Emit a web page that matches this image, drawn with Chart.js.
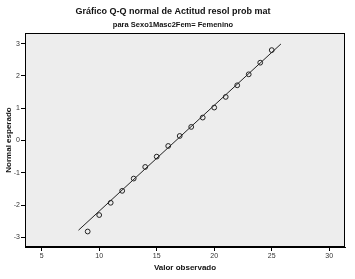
<!DOCTYPE html>
<html>
<head>
<meta charset="utf-8">
<script src="https://cdn.jsdelivr.net/npm/chart.js@4"></script>
<style>
  html, body { margin: 0; padding: 0; background: #fff; }
  #wrap { width: 355px; height: 279px; }
</style>
</head>
<body>
<div id="wrap"><canvas id="qq-chart" width="355" height="279"></canvas></div>
<script>
var observed = [9, 10, 11, 12, 13, 14, 15, 16, 17, 18, 19, 20, 21, 22, 23, 24, 25]
var expected = [-2.82, -2.31, -1.93, -1.56, -1.18, -0.82, -0.50, -0.17, 0.14, 0.42, 0.71, 1.02, 1.35, 1.71, 2.05, 2.41, 2.80]
// recta de referencia
var lineX = [8.2, 25.8]
var lineY = [-2.78, 2.99]
var xTicks = [5, 10, 15, 20, 25, 30]
var yTicks = [-3, -2, -1, 0, 1, 2, 3]

var title = 'Gráfico Q-Q normal de Actitud resol prob mat'
var subtitle = 'para Sexo1Masc2Fem= Femenino'

var ctx = document.getElementById('qq-chart').getContext('2d')

var frame = {
    id: 'frame',
    beforeDraw: function(chart) {
        var a = chart.chartArea, c = chart.ctx
        c.save()
        c.fillStyle = '#ededed'
        c.fillRect(a.left, a.top, a.right - a.left, a.bottom - a.top)
        c.restore()
    },
    afterDraw: function(chart) {
        var a = chart.chartArea, c = chart.ctx
        c.save()
        c.strokeStyle = '#000'
        c.lineWidth = 1
        c.strokeRect(a.left + 0.5, a.top + 0.5, a.right - a.left - 1, a.bottom - a.top - 1)
        c.fillStyle = '#111'
        c.textAlign = 'center'
        c.textBaseline = 'middle'
        c.font = 'bold 9px "Liberation Sans", Arial, sans-serif'
        c.fillText(title, 173, 12)
        c.font = 'bold 7.5px "Liberation Sans", Arial, sans-serif'
        c.fillText(subtitle, 173, 25)
        c.restore()
    }
}

new Chart(ctx, {
    type: 'scatter',
    data: {
        datasets: [{
            data: observed.map(function(v, i) { return {x: v, y: expected[i]} }),
            pointRadius: 2.4,
            pointBorderWidth: 1,
            pointBorderColor: '#222',
            pointBackgroundColor: 'rgba(0,0,0,0)',
            showLine: false
        }, {
            data: lineX.map(function(v, i) { return {x: v, y: lineY[i]} }),
            showLine: true,
            borderColor: '#222',
            borderWidth: 1,
            pointRadius: 0
        }]
    },
    options: {
        responsive: false,
        animation: false,
        layout: { padding: { top: 33, right: 10, left: 0, bottom: 0 } },
        plugins: {
            legend: { display: false },
            tooltip: { enabled: false }
        },
        scales: {
            x: {
                type: 'linear',
                min: 3.55,
                max: 31.37,
                afterBuildTicks: function(s) { s.ticks = xTicks.map(function(v) { return {value: v} }) },
                afterFit: function(s) { s.height = 32 },
                grid: { drawOnChartArea: false, drawTicks: true, tickLength: 4, color: '#000' },
                border: { display: true, color: '#000' },
                ticks: { padding: 1, color: '#333', font: { size: 7, family: '"Liberation Sans", Arial' } },
                title: {
                    display: true,
                    text: 'Valor observado',
                    color: '#111',
                    font: { size: 8, weight: 'bold', family: '"Liberation Sans", Arial' },
                    padding: { top: 0, bottom: 6 }
                }
            },
            y: {
                type: 'linear',
                min: -3.3,
                max: 3.33,
                afterBuildTicks: function(s) { s.ticks = yTicks.map(function(v) { return {value: v} }) },
                afterFit: function(s) { s.width = 25 },
                grid: { drawOnChartArea: false, drawTicks: true, tickLength: 4, color: '#000' },
                border: { display: true, color: '#000' },
                ticks: { padding: 1, color: '#333', font: { size: 7, family: '"Liberation Sans", Arial' } },
                title: {
                    display: true,
                    text: 'Normal esperado',
                    color: '#111',
                    font: { size: 8, weight: 'bold', family: '"Liberation Sans", Arial' },
                    padding: { top: 4, bottom: 0 }
                }
            }
        }
    },
    plugins: [frame]
})
</script>
</body>
</html>
